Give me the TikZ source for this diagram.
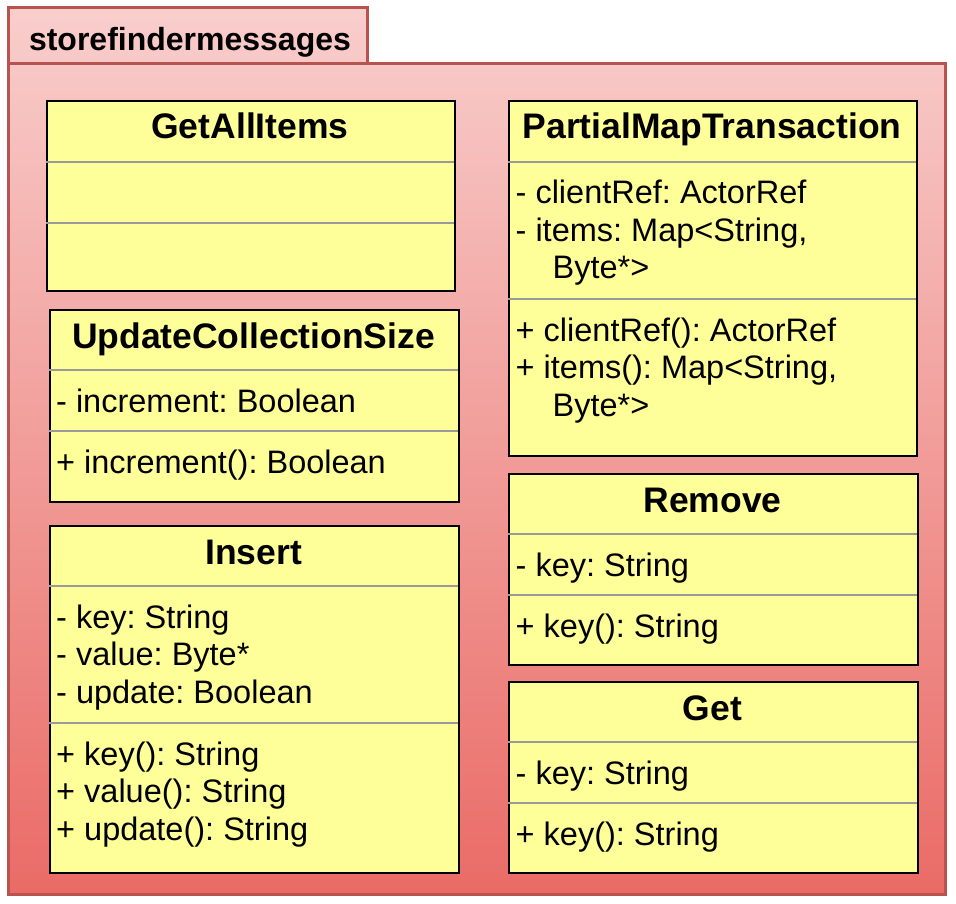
\documentclass[tikz,border=0pt]{standalone}
\usepackage{fontspec}
\setmainfont{Liberation Sans}
\frenchspacing
\definecolor{pkgtop}{HTML}{F8CECC}
\definecolor{pkgbot}{HTML}{EA6B66}
\definecolor{pkgline}{HTML}{B85450}
\definecolor{classfill}{HTML}{FFFF99}
\definecolor{divline}{HTML}{9A9A9A}
\tikzset{
  classbox/.style={draw=black, line width=2pt, fill=classfill, inner sep=0pt, anchor=north west},
  divider/.style={draw=divline, line width=1.6pt},
  ctitle/.style={anchor=base, inner sep=0pt, font=\fontsize{35.5}{40}\selectfont\bfseries},
  member/.style={anchor=base west, inner sep=0pt, font=\fontsize{32.5}{37.5}\selectfont},
  pkgtitle/.style={anchor=base, inner sep=0pt, font=\fontsize{32}{37.5}\selectfont\bfseries},
  pkgedge/.style={draw=pkgline, line width=3pt}
}
\begin{document}
\begin{tikzpicture}[x=1pt,y=-1pt]
\useasboundingbox (0,0) rectangle (956,904);
% package frame
\shade[top color=pkgtop, bottom color=pkgbot]
  (8,8) -- (367,8) -- (367,64) -- (945,64) -- (945,894) -- (8,894) -- cycle;
\draw[pkgedge] (8,8) rectangle (367,64);
\draw[pkgedge] (8,64) rectangle (945,894);
\node[pkgtitle] (pkgname) at (190,51) {storefindermessages};

% GetAllItems
\node[classbox, minimum width=408pt, minimum height=190pt] (ga) at (46,100) {};
\draw[divider] (46,162) -- (454,162);
\draw[divider] (46,223) -- (454,223);
\node[ctitle] (gat) at (250,139) {GetAllItems};

% UpdateCollectionSize
\node[classbox, minimum width=409pt, minimum height=192pt] (ucs) at (49,309) {};
\draw[divider] (49,370) -- (458,370);
\draw[divider] (49,431) -- (458,431);
\node[ctitle] (ucst) at (253.5,348) {UpdateCollectionSize};
\node[member] (ucsa1) at (56,412) {- increment: Boolean};
\node[member] (ucsm1) at (56,473) {+ increment(): Boolean};

% Insert
\node[classbox, minimum width=409pt, minimum height=347pt] (ins) at (49,525) {};
\draw[divider] (49,586) -- (458,586);
\draw[divider] (49,723) -- (458,723);
\node[ctitle] (inst) at (253.5,564) {Insert};
\node[member] (insa1) at (56,628) {- key: String};
\node[member] (insa2) at (56,665.5) {- value: Byte*};
\node[member] (insa3) at (56,703) {- update: Boolean};
\node[member] (insm1) at (56,765) {+ key(): String};
\node[member] (insm2) at (56,802.5) {+ value(): String};
\node[member] (insm3) at (56,840) {+ update(): String};

% PartialMapTransaction
\node[classbox, minimum width=408pt, minimum height=355pt] (pmt) at (508,100) {};
\draw[divider] (508,162) -- (916,162);
\draw[divider] (508,299) -- (916,299);
\node[ctitle] (pmtt) at (712,139) {PartialMapTransaction};
\node[member] (pmta1) at (515.5,204) {- clientRef: ActorRef};
\node[member] (pmta2) at (515.5,241.5) {- items: Map<String,};
\node[member] (pmta3) at (552.5,279) {Byte*>};
\node[member] (pmtm1) at (515.5,341) {+ clientRef(): ActorRef};
\node[member] (pmtm2) at (515.5,378.5) {+ items(): Map<String,};
\node[member] (pmtm3) at (552.5,416) {Byte*>};

% Remove
\node[classbox, minimum width=409pt, minimum height=191pt] (rem) at (508,473) {};
\draw[divider] (508,534) -- (917,534);
\draw[divider] (508,595) -- (917,595);
\node[ctitle] (remt) at (712.5,512) {Remove};
\node[member] (rema1) at (515.5,576) {- key: String};
\node[member] (remm1) at (515.5,637) {+ key(): String};

% Get
\node[classbox, minimum width=409pt, minimum height=191pt] (get) at (508,681) {};
\draw[divider] (508,742) -- (917,742);
\draw[divider] (508,803) -- (917,803);
\node[ctitle] (gett) at (712.5,720) {Get};
\node[member] (geta1) at (515.5,784) {- key: String};
\node[member] (getm1) at (515.5,845) {+ key(): String};
\end{tikzpicture}
\end{document}
